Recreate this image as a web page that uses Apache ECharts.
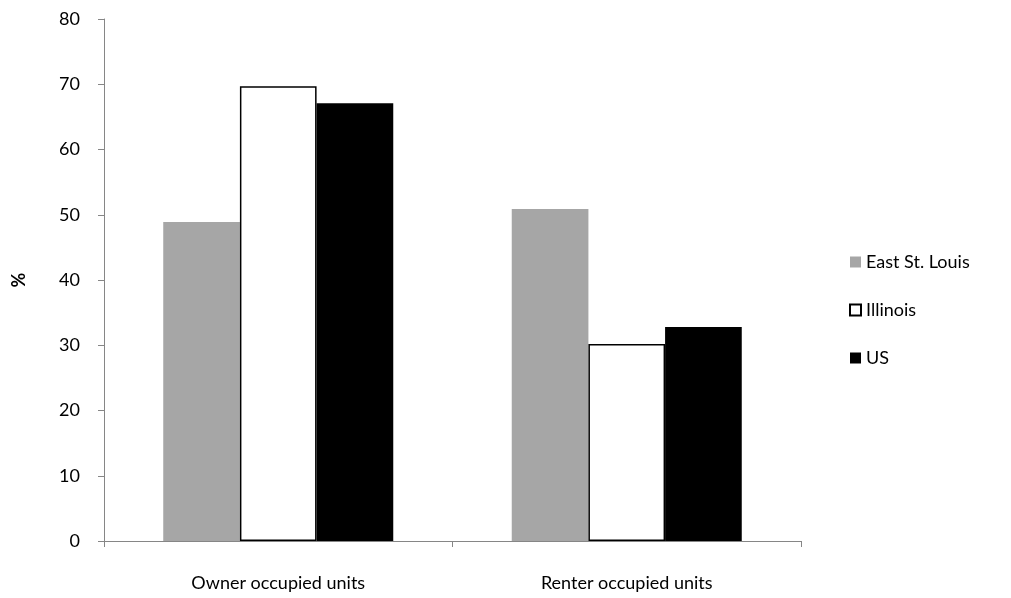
<!DOCTYPE html>
<html>
<head>
<meta charset="utf-8">
<script src="https://cdn.jsdelivr.net/npm/echarts@6/dist/echarts.min.js"></script>
<style>html,body{margin:0;padding:0;background:#fff}#c{width:1011px;height:598px}</style>
</head>
<body>
<div id="c"></div>
<script>
const categories = ['Owner occupied units', 'Renter occupied units'];
const eastStLouis = [48.9, 50.9];
const illinois = [69.7, 30.2];
const us = [67.1, 32.8];
const yTicks = { min: 0, max: 80, interval: 10 };

const FONT = 'Lato';
const chart = echarts.init(document.getElementById('c'));
const axisColor = '#868686';
chart.setOption({
  animation: false,
  backgroundColor: '#fff',
  textStyle: { fontFamily: FONT },
  grid: { left: 104, right: 210, top: 19, bottom: 57, containLabel: false, outerBoundsMode: 'none' },
  legend: {
    orient: 'vertical',
    left: 844,
    top: 247,
    itemWidth: 11,
    itemHeight: 11,
    itemGap: 28,
    icon: 'rect',
    textStyle: { fontFamily: FONT, fontSize: 18, color: '#000', lineHeight: 20 },
    data: ['East St. Louis', 'Illinois', 'US']
  },
  xAxis: {
    type: 'category',
    data: categories,
    axisLine: { lineStyle: { color: axisColor, width: 1 } },
    axisTick: { show: true, length: 6, inside: false, lineStyle: { color: axisColor } },
    axisLabel: { fontFamily: FONT, fontSize: 18, color: '#000', margin: 33 }
  },
  yAxis: {
    type: 'value',
    min: yTicks.min, max: yTicks.max, interval: yTicks.interval,
    name: '%',
    nameLocation: 'middle',
    nameGap: 76,
    nameRotate: 90,
    nameTextStyle: { fontFamily: FONT, fontSize: 18, fontWeight: 'bold', color: '#000' },
    axisLine: { show: true, lineStyle: { color: axisColor, width: 1 } },
    axisTick: { show: true, length: 6, lineStyle: { color: axisColor } },
    axisLabel: { fontFamily: FONT, fontSize: 18, color: '#000', margin: 24 },
    splitLine: { show: false }
  },
  series: [
    { name: 'East St. Louis', type: 'bar', data: eastStLouis, barGap: '0%', barCategoryGap: '34%',
      itemStyle: { color: '#a6a6a6' } },
    { name: 'Illinois', type: 'bar', data: illinois, barGap: '0%', barCategoryGap: '34%',
      itemStyle: { color: '#ffffff', borderColor: '#000', borderWidth: 1.5 } },
    { name: 'US', type: 'bar', data: us, barGap: '0%', barCategoryGap: '34%',
      itemStyle: { color: '#000000' } }
  ]
});
</script>
</body>
</html>
